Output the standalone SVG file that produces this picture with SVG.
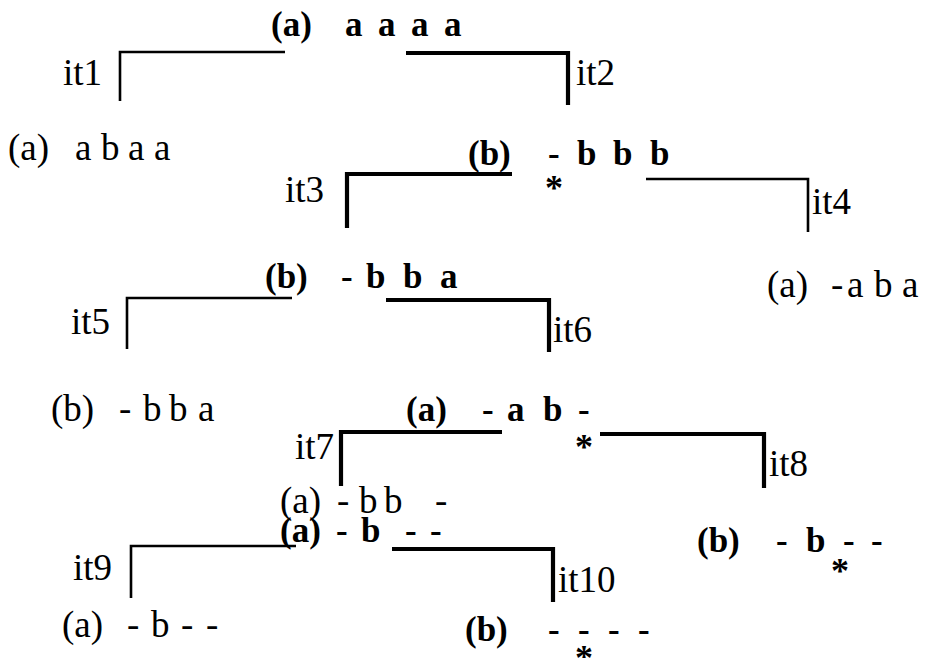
<svg xmlns="http://www.w3.org/2000/svg" width="932" height="658" viewBox="0 0 932 658">
  <style>
    .lbl { font-family: "Liberation Serif", "Times New Roman", serif; font-size: 37px; fill: #000; }
    .b { font-family: "Liberation Serif", "Times New Roman", serif; font-size: 35px; font-weight: bold; fill: #000; }
    .thin { fill: none; stroke: #000; stroke-width: 2.6; stroke-linecap: butt; stroke-linejoin: miter; }
    .thick { fill: none; stroke: #000; stroke-width: 4.2; stroke-linecap: butt; stroke-linejoin: miter; }
    .star { font-family: "Liberation Serif", "Times New Roman", serif; font-size: 36px; font-weight: bold; fill: #000; text-anchor: middle; }
  </style>
  <rect width="932" height="658" fill="#fff"/>

  <!-- branch brackets and their iteration labels -->
  <g id="connectors">
    <path class="thin" d="M120,101 V52 H285"/>
    <path class="thick" d="M406,53 H568 V105"/>
    <path class="thick" d="M347,228 V174 H512"/>
    <path class="thin" d="M646,179 H808 V232"/>
    <path class="thin" d="M127,349 V298 H292"/>
    <path class="thick" d="M386,300 H549 V352"/>
    <path class="thick" d="M341,486 V432 H502"/>
    <path class="thick" d="M600,434 H764 V488"/>
    <path class="thin" d="M131,598 V546 H296"/>
    <path class="thick" d="M392,549 H553 V602"/>
    <text class="lbl" x="63" y="85">it1</text>
    <text class="lbl" x="576" y="85">it2</text>
    <text class="lbl" x="285" y="202">it3</text>
    <text class="lbl" x="812" y="214">it4</text>
    <text class="lbl" x="71" y="334">it5</text>
    <text class="lbl" x="553" y="342">it6</text>
    <text class="lbl" x="295" y="459">it7</text>
    <text class="lbl" x="769" y="476">it8</text>
    <text class="lbl" x="73" y="580">it9</text>
    <text class="lbl" x="558" y="592">it10</text>
  </g>

  <g id="n0">
    <text class="b" y="36"><tspan x="271">(a)</tspan> <tspan x="345">a</tspan> <tspan x="378">a</tspan> <tspan x="411">a</tspan> <tspan x="444">a</tspan></text>
  </g>
  <g id="n1">
    <text class="lbl" y="160"><tspan x="8">(a)</tspan> <tspan x="75">a</tspan> <tspan x="101">b</tspan> <tspan x="128">a</tspan> <tspan x="154">a</tspan></text>
  </g>
  <g id="n2">
    <text class="b" y="165"><tspan x="468">(b)</tspan> <tspan x="548">-</tspan> <tspan x="577">b</tspan> <tspan x="613">b</tspan> <tspan x="650">b</tspan></text>
    <text class="star" x="554" y="200">*</text>
  </g>
  <g id="n3">
    <text class="b" y="288"><tspan x="265">(b)</tspan> <tspan x="341">-</tspan> <tspan x="366">b</tspan> <tspan x="403">b</tspan> <tspan x="440">a</tspan></text>
  </g>
  <g id="n4">
    <text class="lbl" y="297"><tspan x="767">(a)</tspan> <tspan x="831">-</tspan> <tspan x="847">a</tspan> <tspan x="874">b</tspan> <tspan x="902">a</tspan></text>
  </g>
  <g id="n5">
    <text class="lbl" y="421"><tspan x="51">(b)</tspan> <tspan x="119">-</tspan> <tspan x="143">b</tspan> <tspan x="169">b</tspan> <tspan x="198">a</tspan></text>
  </g>
  <g id="n6">
    <text class="b" y="421"><tspan x="406">(a)</tspan> <tspan x="482">-</tspan> <tspan x="507">a</tspan> <tspan x="543">b</tspan> <tspan x="578">-</tspan></text>
    <text class="star" x="584" y="459">*</text>
  </g>
  <g id="n7">
    <text class="lbl" y="513"><tspan x="280">(a)</tspan> <tspan x="337">-</tspan> <tspan x="359">b</tspan> <tspan x="384">b</tspan> <tspan x="435">-</tspan></text>
  </g>
  <g id="n8">
    <text class="b" y="542"><tspan x="280">(a)</tspan> <tspan x="336">-</tspan> <tspan x="361">b</tspan> <tspan x="405">-</tspan> <tspan x="430">-</tspan></text>
  </g>
  <g id="n9">
    <text class="b" y="552"><tspan x="697">(b)</tspan> <tspan x="776">-</tspan> <tspan x="806">b</tspan> <tspan x="843">-</tspan> <tspan x="871">-</tspan></text>
    <text class="star" x="840" y="583">*</text>
  </g>
  <g id="n10">
    <text class="lbl" y="637"><tspan x="62">(a)</tspan> <tspan x="127">-</tspan> <tspan x="151">b</tspan> <tspan x="181">-</tspan> <tspan x="206">-</tspan></text>
  </g>
  <g id="n11">
    <text class="b" y="641"><tspan x="465">(b)</tspan> <tspan x="548">-</tspan> <tspan x="578">-</tspan> <tspan x="608">-</tspan> <tspan x="638">-</tspan></text>
    <text class="star" x="584" y="670">*</text>
  </g>
</svg>
